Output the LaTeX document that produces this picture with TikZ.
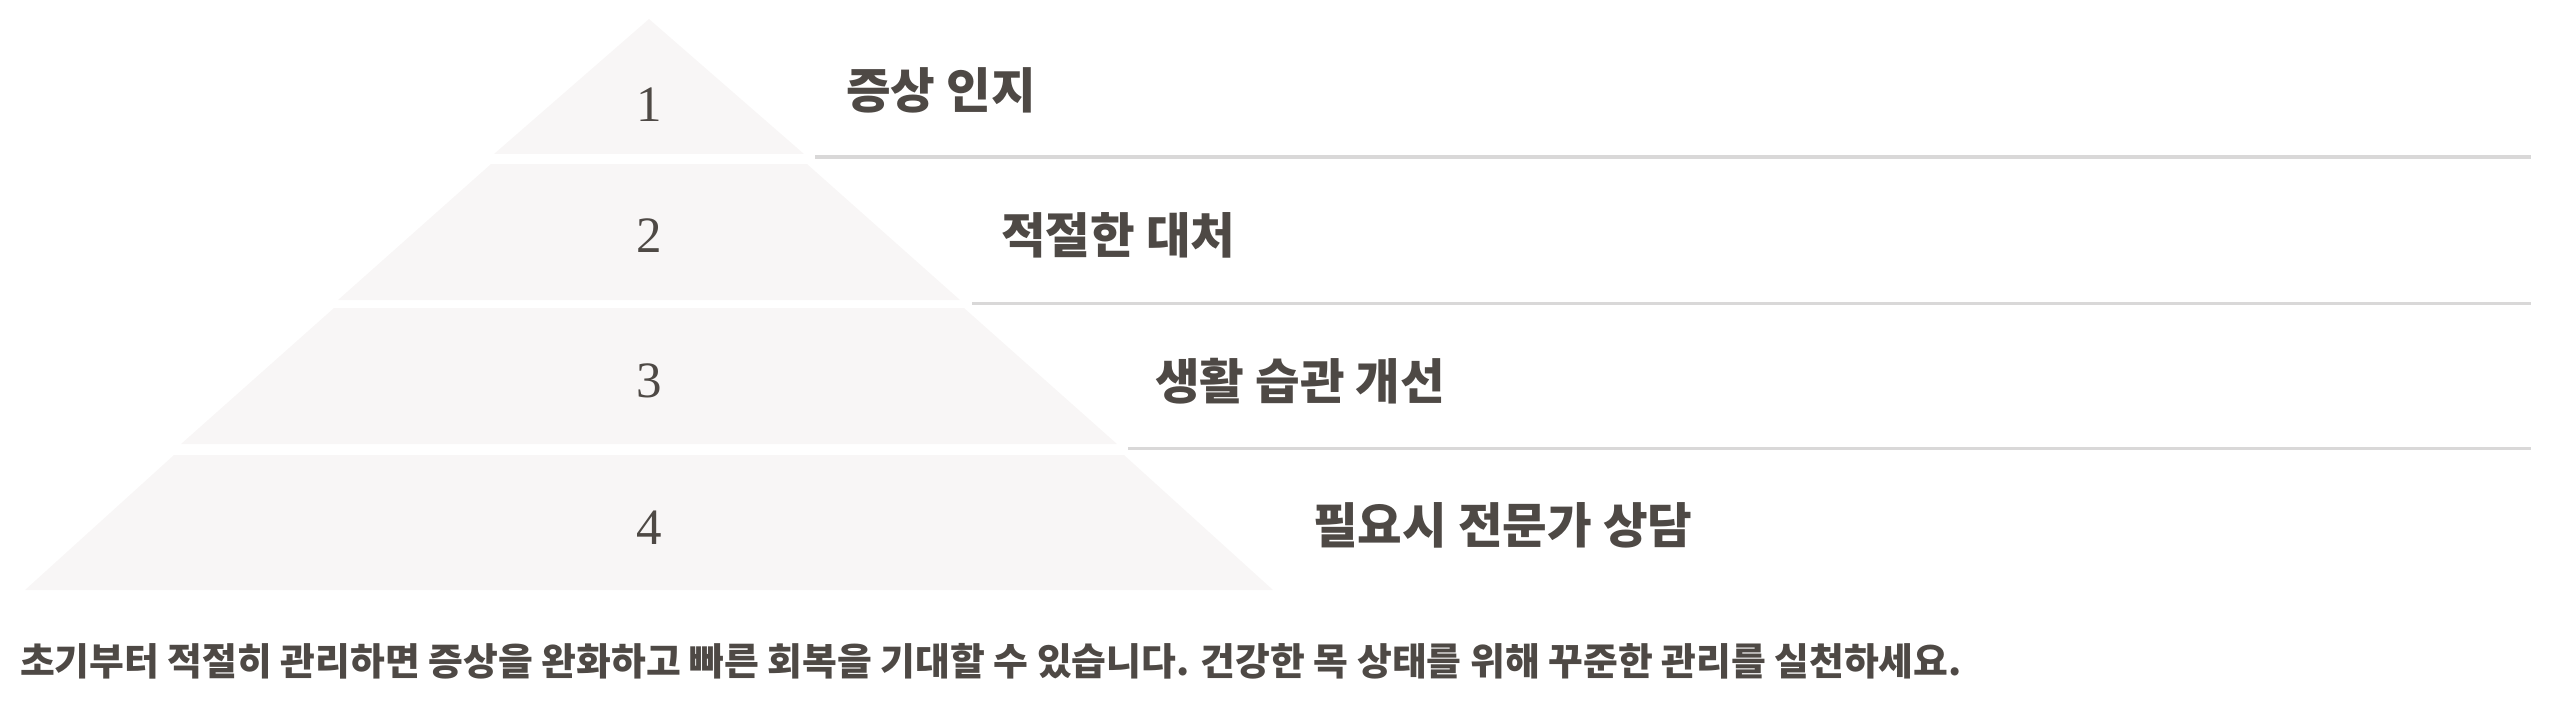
\documentclass[tikz,border=0pt]{standalone}
\usepackage{fontspec}
\usepackage{xcolor}
\usepackage{tikz}
\usetikzlibrary{positioning}
\newfontfamily\kofont{Noto Sans CJK KR}
\newfontfamily\numfont{Liberation Serif}
\definecolor{inkgray}{HTML}{4E4945}
\definecolor{tierfill}{HTML}{F8F6F6}
\definecolor{rulegray}{HTML}{D9D8D8}

\begin{document}
\begin{tikzpicture}[x=1pt, y=-1pt,
  tiernum/.style = {font=\numfont\fontsize{51}{51}\selectfont, text=inkgray, inner sep=0pt},
  tierlabel/.style = {anchor=west, font=\kofont\bfseries\fontsize{48.5}{48.5}\selectfont, text=inkgray, inner sep=0pt},
  tierrule/.style = {draw=rulegray, line width=3pt}]
 				\useasboundingbox (0,0) rectangle (2567,706);
				% pyramid tiers: top y / bottom y / top half width / bottom half width
				\foreach \yt/\yb/\wt/\wb in {19/154/0/155, 164/300/158/311, 308/444/315/468, 455/590/475/624}
					\fill[tierfill] (649-\wt,\yt) -- (649+\wt,\yt) -- (649+\wb,\yb) -- (649-\wb,\yb) -- cycle;
				\node[tiernum] (n1) at (649,105) {1};
				\node[tiernum] (n2) at (649,236) {2};
				\node[tiernum] (n3) at (649,381) {3};
				\node[tiernum] (n4) at (649,528) {4};
				\node[tierlabel] (l1) at (846,90) {증상 인지};
				\node[tierlabel] (l2) at (1001,235) {적절한 대처};
				\node[tierlabel] (l3) at (1155,381) {생활 습관 개선};
				\node[tierlabel] (l4) at (1313,525) {필요시 전문가 상담};
				\coordinate (r1a) at (815,157);  \coordinate (r1b) at (2531,157);
				\coordinate (r2a) at (972,303);  \coordinate (r2b) at (2531,303);
				\coordinate (r3a) at (1128,448); \coordinate (r3b) at (2531,448);
				\draw[tierrule] (r1a) -- (r1b);
				\draw[tierrule] (r2a) -- (r2b);
				\draw[tierrule] (r3a) -- (r3b);
				\node[anchor = west, inner sep=0pt, text=inkgray, font=\kofont\bfseries\fontsize{37.8}{37.8}\selectfont] (note) at (20,661) {초기부터 적절히 관리하면 증상을 완화하고 빠른 회복을 기대할 수 있습니다. 건강한 목 상태를 위해 꾸준한 관리를 실천하세요.};
			\end{tikzpicture}
\end{document}
